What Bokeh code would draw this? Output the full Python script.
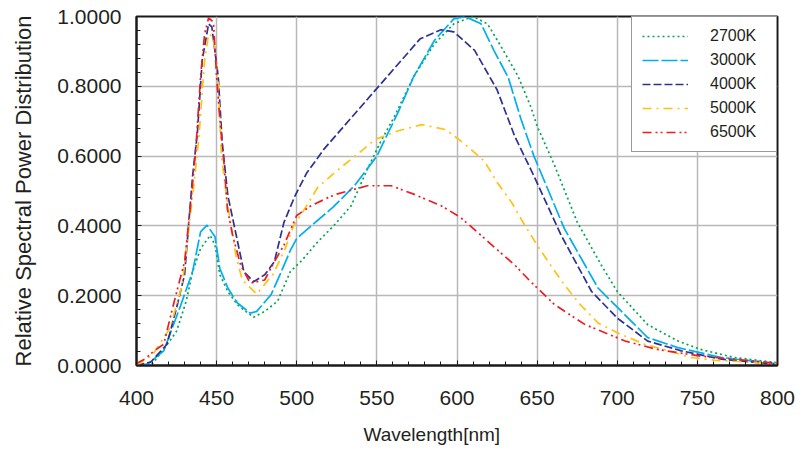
from bokeh.plotting import figure
from bokeh.models import (Range1d, SingleIntervalTicker, NumeralTickFormatter,
                          Legend, LegendItem, Title)
from bokeh.embed import file_html
from bokeh.resources import INLINE

# ---- data ----
series_names = ["2700K", "3000K", "4000K", "5000K", "6500K"]

wl_2700 = [400, 410, 417, 425, 431, 435, 440, 446, 449, 452, 457, 463, 473, 480, 488,
           496, 503, 513, 523, 534, 544, 552, 561, 573, 586, 598, 610, 619, 628, 638,
           646, 650, 661, 675, 690, 700, 719, 738, 752, 773, 800]
spd_2700 = [0.0, 0.006, 0.046, 0.098, 0.184, 0.269, 0.335, 0.373, 0.345, 0.26, 0.212,
            0.174, 0.138, 0.155, 0.184, 0.269, 0.30, 0.354, 0.40, 0.458, 0.562, 0.638,
            0.714, 0.828, 0.922, 0.979, 1.0, 0.979, 0.91, 0.83, 0.742, 0.686, 0.572,
            0.411, 0.288, 0.212, 0.117, 0.07, 0.046, 0.023, 0.008]

wl_3000 = [400, 407, 417, 427, 435, 440, 444, 449, 452, 457, 463, 471, 475, 484, 490,
           496, 500, 509, 523, 536, 550, 563, 573, 586, 598, 605, 615, 623, 632, 640,
           648, 667, 688, 719, 738, 765, 800]
spd_3000 = [0.0, 0.004, 0.042, 0.165, 0.269, 0.383, 0.402, 0.369, 0.278, 0.222, 0.179,
            0.15, 0.155, 0.203, 0.265, 0.33, 0.364, 0.40, 0.455, 0.515, 0.60, 0.723,
            0.828, 0.932, 0.993, 1.0, 0.979, 0.903, 0.825, 0.705, 0.60, 0.392, 0.222,
            0.08, 0.051, 0.023, 0.005]

wl_4000 = [400, 409, 419, 425, 430, 435, 438, 441, 445, 447, 451, 453.5, 457, 461, 467,
           473, 480, 486, 492, 499, 506, 517, 550, 577, 590, 598, 611, 625, 636, 648,
           665, 684, 700, 719, 740, 765, 800]
spd_4000 = [0.0, 0.01, 0.061, 0.165, 0.26, 0.543, 0.667, 0.875, 0.979, 0.97, 0.828,
            0.638, 0.487, 0.40, 0.269, 0.24, 0.26, 0.297, 0.41, 0.487, 0.55, 0.62,
            0.794, 0.936, 0.962, 0.956, 0.903, 0.79, 0.657, 0.543, 0.373, 0.212,
            0.136, 0.07, 0.042, 0.018, 0.003]

wl_5000 = [400, 410, 421, 428.5, 436, 439, 442.5, 445, 448, 451, 453, 457, 462, 466,
           475, 485, 492, 498, 505, 513, 525, 537, 549, 563, 578, 593, 605, 617, 625,
           634, 642, 650, 659, 667, 677, 688, 700, 717, 732, 746, 761, 800]
spd_5000 = [0.0, 0.03, 0.108, 0.231, 0.525, 0.657, 0.875, 0.95, 0.942, 0.809, 0.60,
            0.458, 0.316, 0.245, 0.205, 0.26, 0.326, 0.40, 0.449, 0.51, 0.558, 0.602,
            0.648, 0.672, 0.69, 0.676, 0.634, 0.586, 0.525, 0.468, 0.404, 0.345,
            0.283, 0.231, 0.174, 0.122, 0.094, 0.061, 0.042, 0.023, 0.015, 0.005]

wl_6500 = [400, 405, 411, 417, 422, 426.5, 430, 434, 437, 440, 442.5, 445, 448, 450,
           452, 454.6, 456.7, 460, 465, 471, 480, 486, 492, 500, 509, 520, 525, 544,
           559, 573, 590, 602, 615, 627, 636, 646, 661, 680, 705, 725, 752, 773, 800]
spd_6500 = [0.006, 0.018, 0.042, 0.061, 0.155, 0.236, 0.297, 0.472, 0.62, 0.828, 0.95,
            0.996, 0.984, 0.828, 0.705, 0.58, 0.449, 0.373, 0.288, 0.236, 0.245, 0.297,
            0.345, 0.43, 0.458, 0.482, 0.491, 0.515, 0.515, 0.491, 0.458, 0.425, 0.373,
            0.324, 0.288, 0.24, 0.174, 0.117, 0.07, 0.046, 0.027, 0.018, 0.006]

x_ticks_interval = 50
y_ticks_interval = 0.2
x_title = "Wavelength[nm]"
y_title = "Relative Spectral Power Distribution"

# ---- styles ----
colors = ["#00a651", "#00aeef", "#2e3192", "#ffc20e", "#ed1c24"]
dashes = ["2 3", "16 3", "8 3", "9 5 2 5", "9 4 2 3 2 4"]
FONT = "Liberation Sans"
TXT = "#231f20"

p = figure(width=800, height=458, output_backend="svg", toolbar_location=None,
           x_range=Range1d(400, 800), y_range=Range1d(0, 1.0),
           min_border_left=136, min_border_right=23, min_border_top=16,
           min_border_bottom=90, y_axis_label=y_title)
p.background_fill_color = "white"
p.border_fill_color = "white"
p.outline_line_color = "#1a1a1a"
p.outline_line_width = 2

p.xaxis.ticker = SingleIntervalTicker(interval=x_ticks_interval, num_minor_ticks=5)
p.yaxis.ticker = SingleIntervalTicker(interval=y_ticks_interval, num_minor_ticks=5)
p.yaxis.formatter = NumeralTickFormatter(format="0.0000")

for ax in (p.xaxis, p.yaxis):
    ax.axis_line_color = "#1a1a1a"
    ax.axis_line_width = 2
    ax.major_tick_in = 5
    ax.major_tick_out = 0
    ax.minor_tick_in = 4
    ax.minor_tick_out = 0
    ax.major_tick_line_color = "#1a1a1a"
    ax.minor_tick_line_color = "#1a1a1a"
    ax.major_label_text_font = FONT
    ax.major_label_text_font_size = "21px"
    ax.major_label_text_color = TXT
    ax.axis_label_text_font = FONT
    ax.axis_label_text_font_style = "normal"
    ax.axis_label_text_color = TXT

p.xaxis.major_label_standoff = 25
p.yaxis.major_label_standoff = 15
p.yaxis.axis_label_text_font_size = "22px"
p.yaxis.axis_label_standoff = 18

p.grid.grid_line_color = "#b8b8b8"
p.grid.grid_line_width = 1.5
p.xgrid.ticker = p.xaxis.ticker
p.ygrid.ticker = p.yaxis.ticker

data = [(wl_2700, spd_2700), (wl_3000, spd_3000), (wl_4000, spd_4000),
        (wl_5000, spd_5000), (wl_6500, spd_6500)]
items = []
for name, (xs, ys), c, d in zip(series_names, data, colors, dashes):
    r = p.line(xs, ys, line_color=c, line_width=1.7, line_dash=d)
    items.append(LegendItem(label=name, renderers=[r]))

legend = Legend(items=items, location="top_right", margin=0, padding=10,
                glyph_width=46, glyph_height=18, spacing=6, label_standoff=22,
                label_width=56, label_height=18,
                label_text_font=FONT, label_text_font_size="16px",
                label_text_color=TXT, border_line_color="#333333",
                border_line_width=1.5, background_fill_color="white",
                background_fill_alpha=1.0)
p.add_layout(legend, "center")

# x-axis title, a bit left of centre as in the reference
p.add_layout(Title(text=x_title, align="left", offset=227, standoff=28,
                   text_font=FONT, text_font_size="19px", text_font_style="normal",
                   text_color=TXT), "below")

open("out.html", "w").write(file_html(p, INLINE))
